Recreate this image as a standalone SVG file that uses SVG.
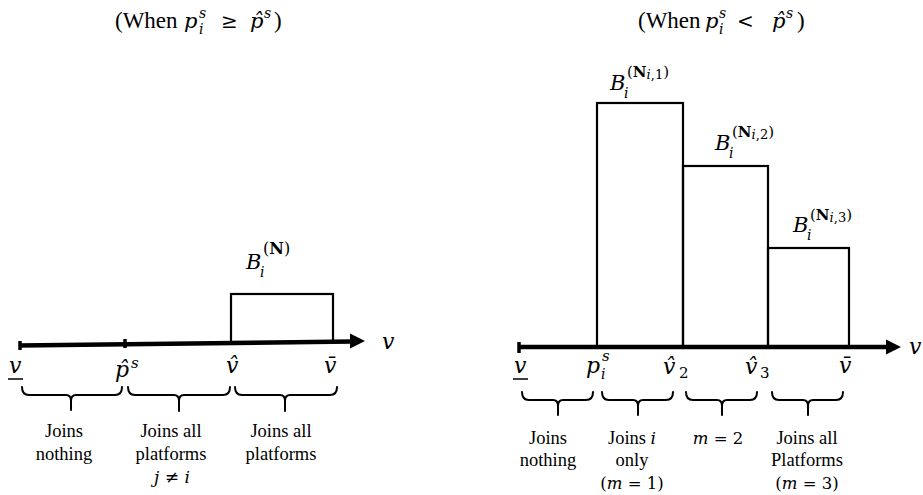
<svg xmlns="http://www.w3.org/2000/svg" width="923" height="495" viewBox="0 0 923 495">
<style>
.t{font-family:'Liberation Serif','Times New Roman',serif}
.m{font-family:'DejaVu Serif',serif;font-style:italic}
.u{font-family:'DejaVu Serif',serif;font-style:normal}
.lab{font-family:'Liberation Serif','Times New Roman',serif;font-size:18.5px;text-anchor:middle}
.box{fill:none;stroke:#000;stroke-width:2.2}
.axis{stroke:#000;stroke-width:4.5;fill:none}
.tick{stroke:#000;stroke-width:3.5}
.brace{fill:none;stroke:#000;stroke-width:2;stroke-linecap:round;stroke-linejoin:round}
</style>
<rect width="923" height="495" fill="#fff"/>

<!-- Titles -->
<g id="title-left">
<text class="t" x="115" y="28" font-size="23">(When</text>
<text class="m" x="184" y="28" font-size="21">p</text>
<text class="m" x="199" y="18" font-size="14">s</text>
<text class="m" x="199" y="34" font-size="14">i</text>
<text class="u" x="221" y="28" font-size="20">≥</text>
<text class="m" x="250" y="28" font-size="21">p̂</text>
<text class="m" x="264" y="18" font-size="14">s</text>
<text class="t" x="274" y="28" font-size="23">)</text>
</g>
<g id="title-right">
<text class="t" x="638" y="28" font-size="23">(When</text>
<text class="m" x="705" y="28" font-size="21">p</text>
<text class="m" x="719" y="18" font-size="14">s</text>
<text class="m" x="719" y="34" font-size="14">i</text>
<text class="u" x="737" y="28" font-size="20">&lt;</text>
<text class="m" x="772" y="28" font-size="21">p̂</text>
<text class="m" x="786" y="18" font-size="14">s</text>
<text class="t" x="797" y="28" font-size="23">)</text>
</g>

<!-- Left diagram -->
<g id="left-bar">
<rect class="box" x="231" y="294" width="102" height="48"/>
<text class="m" x="246" y="269" font-size="21">B</text>
<text class="m" x="260" y="277" font-size="14">i</text>
<text class="u" x="263" y="254" font-size="16">(<tspan font-weight="bold">N</tspan>)</text>
</g>
<g id="connectors">
<path class="axis" d="M19 345.5 L352 341.5"/>
<polygon points="350,333.5 365,341 350,348.5" fill="#000"/>
<line class="tick" x1="20" y1="341" x2="20" y2="350"/>
<line class="tick" x1="125" y1="339" x2="125" y2="348"/>
<path class="axis" d="M518 347 H888"/>
<polygon points="886,339.5 901,347 886,354.5" fill="#000"/>
<line class="tick" x1="519" y1="342" x2="519" y2="353"/>
</g>
<g id="left-axis-labels">
<text class="m" x="382" y="349" font-size="22">v</text>
<text class="m" x="9" y="373" font-size="22">v</text>
<line x1="8" y1="379" x2="23" y2="379" stroke="#000" stroke-width="1.5"/>
<text class="m" x="115" y="377" font-size="22">p̂</text>
<text class="m" x="131" y="368" font-size="15">s</text>
<text class="m" x="226" y="373" font-size="22">v̂</text>
<text class="m" x="324" y="373" font-size="22">v̄</text>
</g>
<g id="left-braces">
<path class="brace" d="M22 387 Q22 395 29 395 H66 Q71 395 71 401 V410 M71 401 Q71 395 76 395 H115 Q122 395 122 387"/>
<path class="brace" d="M128 387 Q128 395 135 395 H174 Q179 395 179 401 V411 M179 401 Q179 395 184 395 H223 Q230 395 230 387"/>
<path class="brace" d="M235 387 Q235 395 242 395 H280 Q285 395 285 401 V411 M285 401 Q285 395 290 395 H330 Q337 395 337 387"/>
</g>
<g id="left-labels">
<text class="lab" x="64" y="437">Joins</text>
<text class="lab" x="64" y="460">nothing</text>
<text class="lab" x="171" y="437">Joins all</text>
<text class="lab" x="171" y="460">platforms</text>
<text class="m" x="172" y="483" font-size="17" text-anchor="middle">j <tspan class="u">≠</tspan> i</text>
<text class="lab" x="281" y="437">Joins all</text>
<text class="lab" x="281" y="460">platforms</text>
</g>

<!-- Right diagram -->
<g id="bar1">
<rect class="box" x="597" y="103" width="86" height="244"/>
<text class="m" x="610" y="90" font-size="21">B</text>
<text class="m" x="624" y="98" font-size="14">i</text>
<text class="u" x="627" y="77" font-size="15">(<tspan font-weight="bold">N</tspan><tspan class="m" font-size="13" dy="2">i</tspan><tspan font-size="13">,1</tspan><tspan dy="-2">)</tspan></text>
</g>
<g id="bar2">
<rect class="box" x="683" y="166" width="85" height="181"/>
<text class="m" x="715" y="150" font-size="21">B</text>
<text class="m" x="729" y="158" font-size="14">i</text>
<text class="u" x="732" y="137" font-size="15">(<tspan font-weight="bold">N</tspan><tspan class="m" font-size="13" dy="2">i</tspan><tspan font-size="13">,2</tspan><tspan dy="-2">)</tspan></text>
</g>
<g id="bar3">
<rect class="box" x="768" y="248" width="81" height="99"/>
<text class="m" x="793" y="232" font-size="21">B</text>
<text class="m" x="807" y="240" font-size="14">i</text>
<text class="u" x="810" y="220" font-size="15">(<tspan font-weight="bold">N</tspan><tspan class="m" font-size="13" dy="2">i</tspan><tspan font-size="13">,3</tspan><tspan dy="-2">)</tspan></text>
</g>
<g id="right-axis-labels">
<text class="m" x="909" y="354" font-size="22">v</text>
<text class="m" x="514" y="373" font-size="22">v</text>
<line x1="513" y1="379" x2="528" y2="379" stroke="#000" stroke-width="1.5"/>
<text class="m" x="586" y="373" font-size="22">p</text>
<text class="m" x="601" y="379" font-size="14">i</text>
<text class="m" x="602" y="361" font-size="15">s</text>
<text class="m" x="663" y="374" font-size="22">v̂</text>
<text class="u" x="679" y="378" font-size="15">2</text>
<text class="m" x="745" y="374" font-size="22">v̂</text>
<text class="u" x="760" y="378" font-size="15">3</text>
<text class="m" x="839" y="373" font-size="22">v̄</text>
</g>
<g id="right-braces">
<path class="brace" d="M522 392 Q522 400 529 400 H553 Q558 400 558 406 V415 M558 406 Q558 400 563 400 H586 Q593 400 593 392"/>
<path class="brace" d="M602 392 Q602 400 609 400 H633 Q638 400 638 406 V415 M638 406 Q638 400 643 400 H666 Q673 400 673 392"/>
<path class="brace" d="M686 392 Q686 400 693 400 H717 Q722 400 722 406 V415 M722 406 Q722 400 727 400 H750 Q757 400 757 392"/>
<path class="brace" d="M772 392 Q772 400 779 400 H803 Q808 400 808 406 V415 M808 406 Q808 400 813 400 H836 Q843 400 843 392"/>
</g>
<g id="right-labels">
<text class="lab" x="548" y="444">Joins</text>
<text class="lab" x="548" y="466">nothing</text>
<text class="lab" x="632" y="444">Joins <tspan class="m" font-size="17">i</tspan></text>
<text class="lab" x="632" y="466">only</text>
<text class="m" x="632" y="489" font-size="16.5" text-anchor="middle"><tspan class="u">(</tspan>m <tspan class="u">= 1)</tspan></text>
<text class="m" x="718" y="444" font-size="16.5" text-anchor="middle">m <tspan class="u">= 2</tspan></text>
<text class="lab" x="807" y="444">Joins all</text>
<text class="lab" x="807" y="466">Platforms</text>
<text class="m" x="807" y="489" font-size="16.5" text-anchor="middle"><tspan class="u">(</tspan>m <tspan class="u">= 3)</tspan></text>
</g>
</svg>
